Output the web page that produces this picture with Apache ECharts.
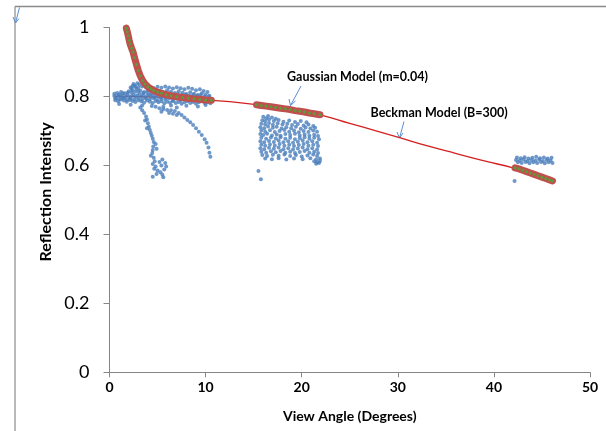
<!DOCTYPE html>
<html>
<head>
<meta charset="utf-8">
<script src="https://cdn.jsdelivr.net/npm/echarts@6/dist/echarts.min.js"></script>
<style>
html,body{margin:0;padding:0;background:#fff;}
#chart{width:606px;height:431px;}
</style>
</head>
<body>
<div id="chart"></div>
<script>
// ---- Data ----
const xTicks = [0, 10, 20, 30, 40, 50];
const yTicks = [0, 0.2, 0.4, 0.6, 0.8, 1];

// Beckman model (B=300) curve
const beckX = [0.5, 2, 4, 6, 8, 10, 12.5, 15.3, 18, 20, 22, 25, 28, 30, 33.3, 36, 39, 42, 44, 46];
const beckY = [0.800, 0.800, 0.799, 0.797, 0.794, 0.790, 0.785, 0.776, 0.765, 0.756, 0.746, 0.722, 0.698, 0.682, 0.655, 0.635, 0.613, 0.593, 0.575, 0.556];

// Gaussian model (m=0.04) segments
const gaussX1 = [1.75, 1.85, 1.95, 2.05, 2.15, 2.3, 2.45, 2.6, 2.8, 3.0, 3.2, 3.45, 3.7, 4.0, 4.3, 4.6, 5.0, 5.4, 5.9, 6.4, 7.0, 7.6, 8.2, 8.8, 9.4, 10.0, 10.6];
const gaussY1 = [0.998, 0.988, 0.976, 0.963, 0.952, 0.940, 0.929, 0.913, 0.893, 0.875, 0.860, 0.846, 0.836, 0.828, 0.822, 0.817, 0.813, 0.809, 0.805, 0.802, 0.799, 0.797, 0.795, 0.793, 0.792, 0.790, 0.789];
const gaussX2 = [15.3, 15.8, 16.3, 16.8, 17.3, 17.8, 18.3, 18.8, 19.3, 19.8, 20.3, 20.8, 21.3, 21.9];
const gaussY2 = [0.776, 0.774, 0.772, 0.770, 0.768, 0.766, 0.764, 0.762, 0.759, 0.757, 0.755, 0.752, 0.750, 0.747];
const gaussX3 = [42.2, 42.6, 43.0, 43.4, 43.8, 44.2, 44.6, 45.0, 45.4, 45.8, 46.1];
const gaussY3 = [0.593, 0.590, 0.586, 0.582, 0.578, 0.574, 0.570, 0.566, 0.562, 0.558, 0.555];

// Measured reflection intensity (blue points)
const measuredNear = [
 [0.5,0.801],[0.7,0.797],[0.9,0.803],[1.1,0.799],[1.3,0.802],[1.5,0.796],[1.7,0.800],[1.9,0.804],[2.1,0.798],[2.3,0.801],
 [2.5,0.806],[2.7,0.799],[2.9,0.803],[3.1,0.808],[3.3,0.800],[3.5,0.804],[3.7,0.797],[3.9,0.802],[4.1,0.806],[4.3,0.799],
 [4.5,0.803],[4.7,0.798],[4.9,0.801],[5.1,0.805],[5.3,0.797],[5.5,0.800],[5.7,0.803],[5.9,0.796],[6.1,0.801],[6.3,0.798],
 [6.5,0.802],[6.7,0.795],[6.9,0.799],[7.1,0.802],[7.3,0.796],[7.5,0.800],[7.7,0.794],[7.9,0.798],[8.1,0.801],[8.3,0.795],
 [8.5,0.799],[8.7,0.793],[8.9,0.797],[9.1,0.800],[9.3,0.794],[9.5,0.798],[9.7,0.792],[9.9,0.796],[10.1,0.790],[10.3,0.794],[10.5,0.789],
 [0.6,0.794],[1.0,0.792],[1.4,0.795],[1.8,0.791],[2.2,0.794],[2.6,0.792],[3.0,0.795],[3.4,0.791],[3.8,0.794],[4.2,0.792],
 [4.6,0.795],[5.0,0.790],[5.4,0.793],[5.8,0.791],[6.2,0.794],[6.6,0.790],[7.0,0.793],[7.4,0.789],[7.8,0.792],[8.2,0.790],
 [8.6,0.788],[9.0,0.791],[9.4,0.787],[9.8,0.790],[10.2,0.787],
 [0.5,0.808],[1.0,0.806],[1.4,0.809],[1.9,0.811],[2.3,0.812],[2.7,0.814],[3.0,0.816],[3.5,0.810],[3.9,0.812],[4.3,0.808],
 [4.7,0.810],[5.1,0.807],[5.5,0.809],[5.9,0.806],[6.3,0.808],[6.7,0.805],[7.1,0.807],[7.5,0.804],[7.9,0.806],[8.3,0.803],
 [8.7,0.805],[9.1,0.802],[9.5,0.804],[9.9,0.800],[10.3,0.799],
 [0.6,0.789],[0.9,0.786],[1.2,0.791],[1.5,0.788],[1.8,0.785],[2.1,0.790],[2.4,0.787],[2.7,0.784],[3.0,0.789],[3.3,0.786],
 [3.6,0.782],[3.9,0.788],[4.2,0.785],[4.5,0.781],[4.8,0.787],[5.1,0.783],[5.4,0.786],[5.7,0.780],[6.0,0.785],[6.3,0.782],
 [6.6,0.786],[6.9,0.781],[7.2,0.784],[7.5,0.779],[7.8,0.783],[8.1,0.786],[8.4,0.781],[8.7,0.784],[9.0,0.779],[9.3,0.783],
 [9.6,0.786],[9.9,0.781],[10.2,0.784],[10.5,0.780],
 [1.0,0.778],[2.2,0.776],[3.4,0.774],[4.4,0.772],[5.6,0.770],[6.4,0.774],[7.0,0.768],[8.0,0.773],[9.2,0.771],[10.0,0.775],
 [0.8,0.810],[1.2,0.813],[1.6,0.809],[2.0,0.815],[2.4,0.818],[2.8,0.822],[3.2,0.817],[3.6,0.813],[4.0,0.819],[4.4,0.815],
 [4.8,0.811],[5.2,0.816],[5.6,0.812],[6.0,0.818],[6.4,0.814],[6.8,0.810],[7.2,0.815],[7.6,0.811],[8.0,0.807],[8.4,0.812],
 [8.8,0.808],[9.2,0.804],[9.6,0.809],[10.0,0.805],[10.4,0.802],
 [2.2,0.826],[2.4,0.830],[2.5,0.836],[2.7,0.828],[3.0,0.826],[2.3,0.822],
 [2.6,0.832],[2.9,0.838],[3.1,0.835],[3.4,0.829],[3.8,0.826],[4.6,0.824],[5.0,0.828],[5.4,0.825],[5.8,0.829],[6.2,0.826],
 [6.6,0.823],[7.0,0.827],[7.4,0.824],[7.8,0.821],[8.2,0.825],[8.6,0.822],[9.0,0.818],[9.4,0.821],[9.8,0.816],[10.2,0.813],
 [3.2,0.768],[3.4,0.760],[3.6,0.752],[3.8,0.742],[3.9,0.733],[4.0,0.722],[4.1,0.712],[4.2,0.703],[4.3,0.694],[4.4,0.686],
 [4.5,0.677],[4.6,0.668],[4.55,0.655],[4.5,0.645],[4.45,0.636],[4.3,0.628],[4.6,0.622],[4.7,0.612],[4.5,0.604],[4.8,0.597],
 [4.65,0.590],[5.0,0.585],[4.9,0.575],[5.3,0.580],[5.5,0.573],[5.6,0.566],[5.7,0.588],[5.4,0.600],[5.2,0.610],[5.9,0.597],
 [5.8,0.607],[5.5,0.617],[3.7,0.730],[3.9,0.708],[4.8,0.662],[4.9,0.648],[4.5,0.567],
 [4.8,0.770],[5.2,0.766],[5.6,0.763],[6.0,0.761],[6.4,0.760],[6.8,0.758],[7.2,0.752],[7.5,0.746],[7.8,0.739],[8.1,0.732],
 [8.4,0.725],[8.7,0.717],[9.0,0.708],[9.3,0.698],[9.6,0.688],[9.9,0.676],[10.1,0.666],[10.3,0.652],[10.4,0.637],[10.5,0.625],
 [6.2,0.752],[6.6,0.750],[7.0,0.746],[5.4,0.756]
];
const measuredMid = [
 [16.0,0.741],[16.3,0.737],[16.5,0.743],[16.9,0.739],[17.3,0.735],
 [15.9,0.731],[16.2,0.728],[16.6,0.733],[17.1,0.729],[17.6,0.732],[18.1,0.727],[18.7,0.730],[19.3,0.726],[19.9,0.729],[20.5,0.725],
 [15.8,0.721],[16.2,0.719],[16.6,0.723],[17.0,0.718],[17.5,0.722],[18.0,0.719],[18.5,0.721],[19.0,0.717],[19.6,0.720],[20.2,0.716],[20.7,0.719],[21.2,0.714],
 [15.7,0.711],[16.1,0.708],[16.5,0.713],[17.0,0.709],[17.4,0.712],[17.9,0.707],[18.4,0.711],[18.9,0.708],[19.4,0.712],[19.9,0.706],[20.4,0.710],[20.9,0.707],[21.4,0.709],
 [15.8,0.701],[16.2,0.698],[16.7,0.702],[17.2,0.697],[17.7,0.700],[18.2,0.703],[18.7,0.698],[19.2,0.701],[19.7,0.696],[20.2,0.700],[20.7,0.697],[21.2,0.701],[21.6,0.698],
 [15.7,0.691],[16.0,0.688],[16.4,0.692],[16.9,0.687],[17.4,0.690],[17.8,0.686],[18.3,0.691],[18.8,0.688],[19.3,0.692],[19.8,0.687],[20.3,0.690],[20.8,0.686],[21.3,0.689],[21.7,0.685],
 [15.8,0.680],[16.3,0.677],[16.8,0.681],[17.3,0.678],[17.8,0.682],[18.3,0.677],[18.8,0.680],[19.3,0.676],[19.8,0.679],[20.3,0.682],[20.8,0.677],[21.3,0.680],[21.8,0.676],
 [15.7,0.670],[16.1,0.667],[16.6,0.671],[17.1,0.668],[17.6,0.672],[18.1,0.667],[18.6,0.670],[19.1,0.666],[19.6,0.669],[20.1,0.672],[20.6,0.667],[21.1,0.670],[21.6,0.666],
 [15.8,0.660],[16.2,0.657],[16.7,0.661],[17.2,0.658],[17.7,0.662],[18.2,0.657],[18.7,0.660],[19.2,0.656],[19.7,0.659],[20.2,0.662],[20.7,0.657],[21.2,0.660],[21.7,0.656],
 [15.7,0.650],[16.1,0.647],[16.6,0.651],[17.1,0.648],[17.6,0.652],[18.1,0.647],[18.6,0.650],[19.1,0.646],[19.6,0.649],[20.1,0.652],[20.6,0.647],[21.1,0.650],[21.6,0.646],
 [15.8,0.640],[16.3,0.637],[16.8,0.641],[17.3,0.638],[17.8,0.642],[18.3,0.637],[18.8,0.640],[19.3,0.636],[19.8,0.639],[20.3,0.642],[20.8,0.637],[21.3,0.640],[21.7,0.636],
 [15.9,0.630],[16.4,0.627],[17.0,0.631],[17.6,0.628],[18.2,0.632],[18.8,0.627],[19.4,0.630],[20.0,0.626],[20.6,0.629],[21.2,0.632],[21.6,0.627],
 [16.2,0.620],[16.9,0.618],[17.6,0.621],[18.4,0.617],[19.2,0.620],[20.1,0.618],[20.9,0.621],[21.5,0.617],[21.9,0.620],
 [21.3,0.612],[21.6,0.609],[21.9,0.613],[21.5,0.605],[21.8,0.607],
 [15.5,0.584],[15.75,0.560]
];
const measuredFar = [
 [42.4,0.623],[42.8,0.621],[43.2,0.624],[43.6,0.620],[44.0,0.622],[44.4,0.625],[44.8,0.621],[45.2,0.623],[45.6,0.620],[46.0,0.622],
 [42.3,0.616],[42.7,0.614],[43.1,0.617],[43.5,0.613],[43.9,0.616],[44.3,0.614],[44.7,0.617],[45.1,0.613],[45.5,0.616],[45.9,0.614],
 [42.5,0.609],[42.9,0.607],[43.3,0.610],[43.7,0.606],[44.1,0.609],[44.5,0.607],[44.9,0.610],[45.3,0.606],[45.7,0.609],[46.1,0.607],
 [42.15,0.555]
];

// ---- Build ----
const zip = (xs, ys) => xs.map((x, i) => [x, ys[i]]);
const FONT = 'Lato, "Open Sans", sans-serif';
const blue = '#4a7ebb';
const bandRed = '#c0504d';
const green = '#5a9e3a';
const arrowBlue = '#5b8fd0';

function bandSeries(xs, ys) {
  return {
    type: 'line', data: zip(xs, ys), silent: true,
    symbol: 'circle', symbolSize: 3, showSymbol: true,
    itemStyle: { color: green, borderWidth: 0 },
    lineStyle: { color: bandRed, width: 7, cap: 'round', join: 'round' },
    z: 4
  };
}

const chart = echarts.init(document.getElementById('chart'), null, { renderer: 'canvas' });
chart.setOption({
  animation: false,
  backgroundColor: '#fff',
  grid: { left: 109.5, right: 16, top: 27.5, bottom: 58.7, containLabel: false, outerBoundsMode: 'none' },
  xAxis: {
    type: 'value', min: xTicks[0], max: xTicks[xTicks.length - 1], interval: 10,
    name: 'View Angle (Degrees)', nameLocation: 'middle', nameGap: 37,
    nameTextStyle: { fontFamily: FONT, fontWeight: 'bold', fontSize: 14, color: '#000' },
    axisLine: { show: true, lineStyle: { color: '#868686', width: 1 } },
    axisTick: { show: true, length: 5, lineStyle: { color: '#868686' } },
    axisLabel: { fontFamily: FONT, fontWeight: 'bold', fontSize: 14, color: '#000', margin: 8 },
    splitLine: { show: false }
  },
  yAxis: {
    type: 'value', min: yTicks[0], max: yTicks[yTicks.length - 1], interval: 0.2,
    name: 'Reflection Intensity', nameLocation: 'middle', nameGap: 52,
    nameTextStyle: { fontFamily: FONT, fontWeight: 'bold', fontSize: 16, color: '#000', padding: [0, 0, 0, 16] },
    axisLine: { show: true, lineStyle: { color: '#868686', width: 1 } },
    axisTick: { show: true, length: 6, lineStyle: { color: '#868686' } },
    axisLabel: { fontFamily: FONT, fontSize: 18, color: '#000', margin: 20 },
    splitLine: { show: false }
  },
  series: [
    { type: 'line', data: zip(beckX, beckY), showSymbol: false, symbol: 'none', smooth: true,
      lineStyle: { color: '#d42020', width: 1.3 }, z: 2, silent: true },
    { type: 'scatter', data: measuredNear, symbol: 'circle', symbolSize: 4, itemStyle: { color: blue }, z: 3, silent: true },
    { type: 'scatter', data: measuredMid, symbol: 'circle', symbolSize: 4, itemStyle: { color: blue }, z: 3, silent: true },
    { type: 'scatter', data: measuredFar, symbol: 'circle', symbolSize: 4, itemStyle: { color: blue }, z: 3, silent: true },
    bandSeries(gaussX1, gaussY1),
    bandSeries(gaussX2, gaussY2),
    bandSeries(gaussX3, gaussY3)
  ],
  graphic: [
    { type: 'line', shape: { x1: 15, y1: 6.5, x2: 606, y2: 6.5 }, style: { stroke: '#8a8a8a', lineWidth: 1.5 }, silent: true },
    { type: 'line', shape: { x1: 15, y1: 6.5, x2: 15, y2: 431 }, style: { stroke: '#8a8a8a', lineWidth: 1.2 }, silent: true },
    { type: 'polyline', shape: { points: [[19.5, 7.5], [15.5, 23]] }, style: { stroke: arrowBlue, lineWidth: 1, fill: null }, silent: true },
    { type: 'polyline', shape: { points: [[13, 17], [15.5, 23], [19, 18.5]] }, style: { stroke: arrowBlue, lineWidth: 1, fill: null }, silent: true },
    { type: 'text', x: 287, y: 76.5, style: { text: 'Gaussian Model (m=0.04)', font: 'bold 12.5px ' + FONT, fill: '#000', verticalAlign: 'middle' }, silent: true },
    { type: 'polyline', shape: { points: [[301, 86], [290.5, 105.5]] }, style: { stroke: arrowBlue, lineWidth: 1, fill: null }, silent: true },
    { type: 'polyline', shape: { points: [[289, 99], [290.5, 105.5], [295.5, 101]] }, style: { stroke: arrowBlue, lineWidth: 1, fill: null }, silent: true },
    { type: 'text', x: 370.5, y: 112.5, style: { text: 'Beckman Model (B=300)', font: 'bold 12.5px ' + FONT, fill: '#000', verticalAlign: 'middle' }, silent: true },
    { type: 'polyline', shape: { points: [[404, 121.5], [399.5, 138]] }, style: { stroke: arrowBlue, lineWidth: 1, fill: null }, silent: true },
    { type: 'polyline', shape: { points: [[397, 132], [399.5, 138], [403, 133]] }, style: { stroke: arrowBlue, lineWidth: 1, fill: null }, silent: true }
  ]
});
</script>
</body>
</html>
